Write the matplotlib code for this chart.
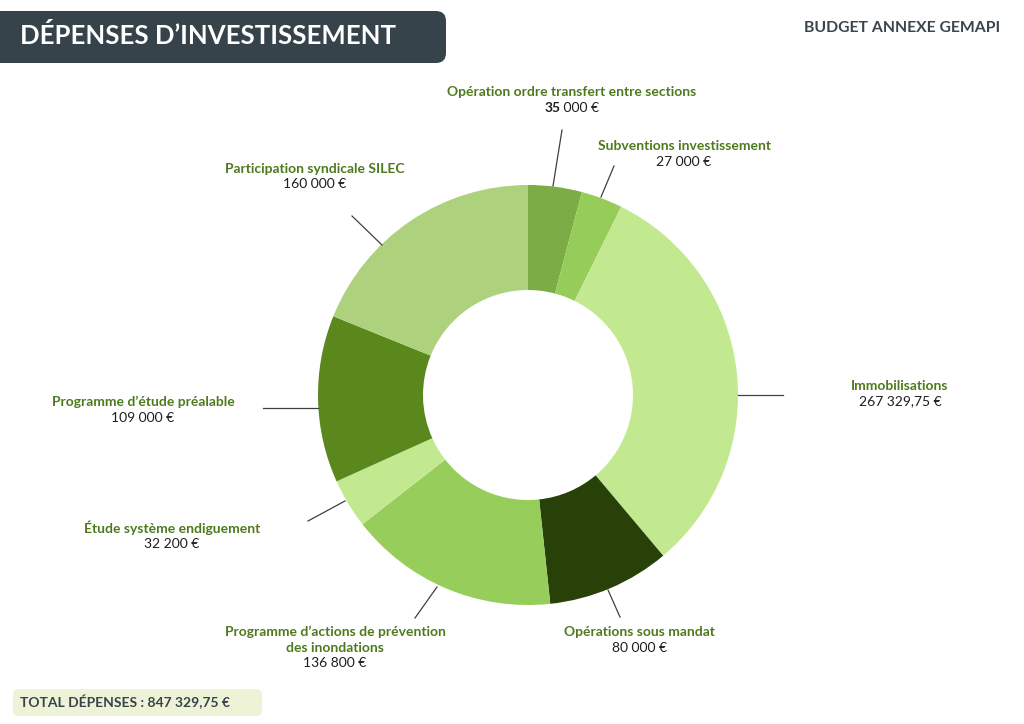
import matplotlib
matplotlib.use('Agg')
import matplotlib.pyplot as plt
from matplotlib.patches import FancyBboxPatch

plt.rcParams['font.family'] = ['Lato', 'DejaVu Sans']

# Données
categories = [
    'Opération ordre transfert entre sections',
    'Subventions investissement',
    'Immobilisations',
    'Opérations sous mandat',
    'Programme d’actions de prévention\ndes inondations',
    'Étude système endiguement',
    'Programme d’étude préalable',
    'Participation syndicale SILEC',
]
values = [35000, 27000, 267329.75, 80000, 136800, 32200, 109000, 160000]
colors = ['#7BAC45', '#96CC5A', '#C2E990', '#284108',
          '#97CD5A', '#C2E990', '#5A881C', '#ADD17C']

title = 'DÉPENSES D’INVESTISSEMENT'
subtitle = 'BUDGET ANNEXE GEMAPI'

# position des étiquettes (px, 1re ligne) et traits de rappel (px)
label_pos = [(572, 92), (684, 146), (900, 386), (639, 632),
             (335, 632), (172, 528), (143, 402), (315, 169)]
leader = [((553, 186), (562, 130)), ((601, 197), (614, 166)),
          ((738, 395), (783, 395)), ((608, 590), (620, 617)),
          ((437, 587), (415, 618)), ((345, 501), (308, 521)),
          ((318, 408), (263, 408)), ((382, 245), (352, 216))]

W, H = 1024, 724
LH = 15.5  # hauteur de ligne des étiquettes


def Y(py):
    return H - py


def euro(v):
    s = f'{v:,.2f}'.replace(',', ' ').replace('.', ',')
    if s.endswith(',00'):
        s = s[:-3]
    return s + ' €'


fig = plt.figure(figsize=(W / 100, H / 100), dpi=100)
ax = fig.add_axes([0, 0, 1, 1])

ax.pie(values, colors=colors, startangle=90, counterclock=False,
       radius=210, center=(528, Y(395)),
       wedgeprops=dict(width=105, edgecolor='none', linewidth=0))
ax.set_xlim(0, W)
ax.set_ylim(0, H)
ax.set_axis_off()

green = '#4E7A1E'
dark = '#1E1E1E'
r = fig.canvas.get_renderer()
for i, (name, v) in enumerate(zip(categories, values)):
    x, y = label_pos[i]
    lines = name.split('\n')
    for k, line in enumerate(lines):
        ax.text(x, Y(y + k * LH), line, ha='center', va='center',
                fontsize=10, fontweight='bold', color=green)
    vy = y + LH * len(lines)
    if i == 0:
        # "35" en gras, comme dans l'original
        s = euro(v)
        head, tail = s.split(' ', 1)
        t1 = ax.text(0, 0, head, fontsize=10, fontweight='bold')
        t2 = ax.text(0, 0, ' ' + tail, fontsize=10)
        w1 = t1.get_window_extent(r).width
        w2 = t2.get_window_extent(r).width
        x0 = x - (w1 + w2) / 2
        t1.set_position((x0, Y(vy)))
        t1.set(va='center', ha='left', color=dark)
        t2.set_position((x0 + w1, Y(vy)))
        t2.set(va='center', ha='left', color=dark)
    else:
        ax.text(x, Y(vy), euro(v), ha='center', va='center', fontsize=10,
                color=dark)
    (x1, y1), (x2, y2) = leader[i]
    ax.plot([x1, x2], [Y(y1), Y(y2)], color='#404040', lw=0.9)

# bandeau titre
ax.add_patch(FancyBboxPatch((-30, Y(63)), 476, 52,
                            boxstyle='round,pad=0,rounding_size=10',
                            fc='#36434B', ec='none'))
ax.text(20, Y(36), title, ha='left', va='center', fontsize=18.5,
        fontweight='bold', color='white')
ax.text(1000, Y(28), subtitle, ha='right', va='center', fontsize=11.3,
        fontweight='bold', color='#3A454C')

# total
total = sum(values)
ax.add_patch(FancyBboxPatch((13, Y(716)), 249, 27,
                            boxstyle='round,pad=0,rounding_size=6',
                            fc='#EEF3D7', ec='none'))
ax.text(20, Y(702), 'TOTAL DÉPENSES : ' + euro(total), ha='left',
        va='center', fontsize=10, fontweight='bold', color='#36434B')

fig.savefig('out.png', dpi=100)
